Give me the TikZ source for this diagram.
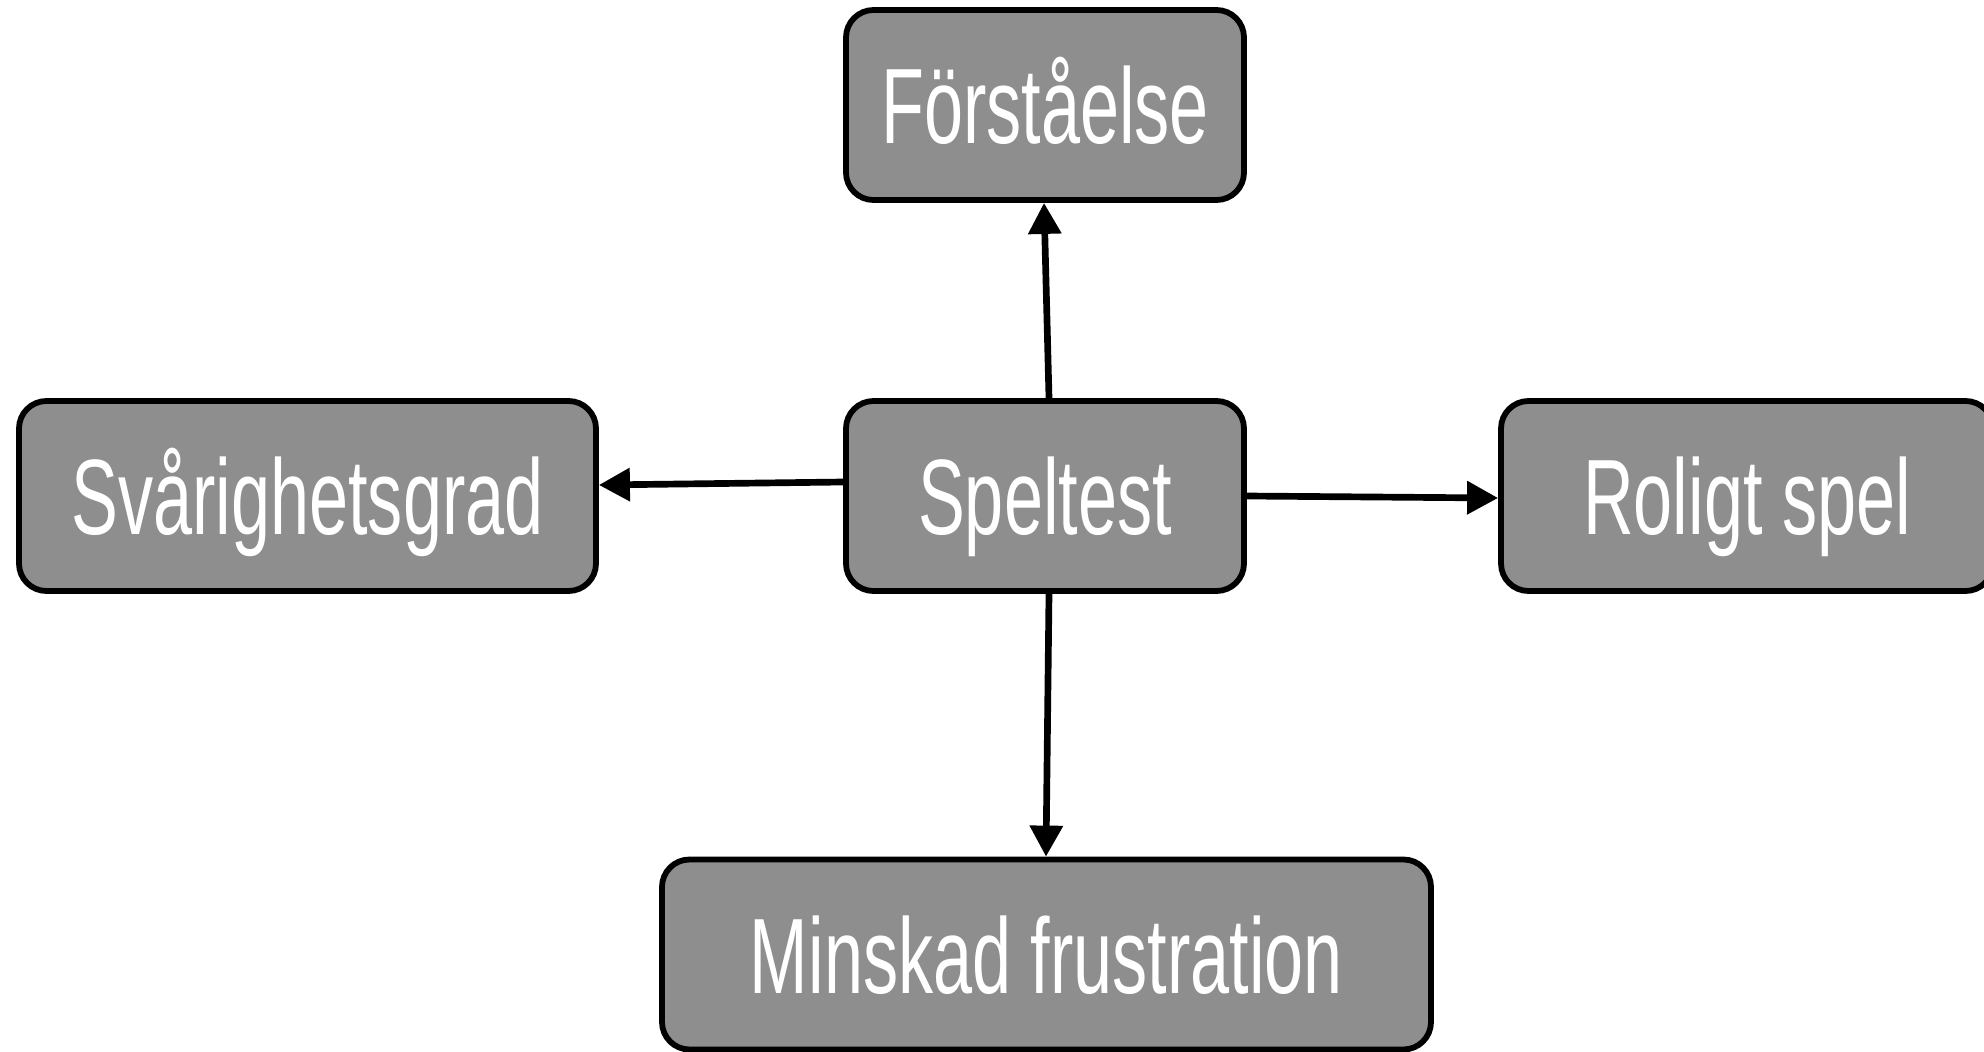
\documentclass[tikz,border=0pt]{standalone}
\usepackage{fontspec}
\newfontfamily\boxfont[FakeStretch=0.655]{Liberation Sans}
\usetikzlibrary{arrows.meta}
\definecolor{boxgray}{HTML}{8E8E8E}

\begin{document}
\begin{tikzpicture}[
  box/.style={draw=black, line width=3.3pt, fill=boxgray, rounded corners=0.55cm,
    text=white, font=\boxfont\fontsize{61}{61}\selectfont,
    text height=44pt, text depth=0pt, inner sep=0pt,
    minimum height=3.8cm},
  link/.style={line width=3.8pt, -{Triangle[length=0.62cm, width=0.64cm]}}
]
\clip (0,0) rectangle (39.68,-21.04);

% Boxes
\node[box, minimum width=7.96cm]  (forst)    at (20.9, -2.1)   {Förståelse};
\node[box, minimum width=7.96cm]  (speltest) at (20.9, -9.92)  {Speltest};
\node[box, minimum width=11.54cm] (svar)     at (6.15, -9.92)  {Svårighetsgrad};
\node[box, minimum width=9.84cm]  (roligt)   at (34.94, -9.92) {Roligt spel};
\node[box, minimum width=15.38cm] (minskad)  at (20.93, -19.09) {Minskad frustration};

% Arrows
\draw[link] ([xshift=0.08cm]speltest.north) -- ([xshift=-0.02cm]forst.south);
\draw[link] ([yshift=0.28cm]speltest.west) -- ([yshift=0.22cm]svar.east);
\draw[link] (speltest.east) -- ([yshift=-0.04cm]roligt.west);
\draw[link] ([xshift=0.08cm]speltest.south) -- ([xshift=-0.01cm]minskad.north);

\end{tikzpicture}
\end{document}
